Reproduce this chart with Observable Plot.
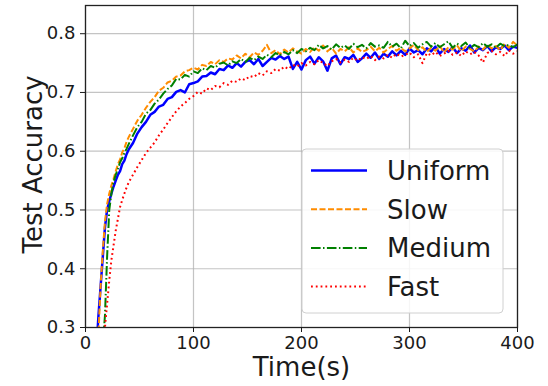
<!DOCTYPE html>
<html><head><meta charset="utf-8">
<script src="https://cdn.jsdelivr.net/npm/d3@7"></script>
<script src="https://cdn.jsdelivr.net/npm/@observablehq/plot@0.6"></script>
<style>body{margin:0;background:#fff} #chart{width:548px;height:386px}</style>
</head><body><div id="chart"></div>
<script>
const times = [10,12,14,16,18,20,22,24,26,28,30,32,34,36,38,40,
  44,48,52,56,60,64,68,72,76,80,
  84,88,92,96,100,104,108,112,116,120,
  124,128,132,136,140,144,148,152,156,160,
  164,168,172,176,180,184,188,192,196,200,
  204,208,212,216,220,224,228,232,236,240,
  244,248,252,256,260,264,268,272,276,280,
  284,288,292,296,300,304,308,312,316,320,
  324,328,332,336,340,344,348,352,356,360,
  364,368,372,376,380,384,388,392,396,400];

const uniform = [0.26,0.32,0.37,0.42,0.47,0.50,0.515,0.528,0.540,0.550,0.560,0.566,0.578,0.584,0.595,0.603,
  0.614,0.630,0.641,0.650,0.662,0.667,0.676,0.679,0.689,0.692,
  0.701,0.704,0.700,0.714,0.716,0.719,0.727,0.728,0.734,0.731,
  0.740,0.738,0.746,0.742,0.750,0.744,0.752,0.755,0.748,0.757,
  0.745,0.752,0.759,0.756,0.762,0.757,0.761,0.740,0.752,0.739,
  0.755,0.761,0.749,0.760,0.753,0.737,0.758,0.763,0.748,0.760,
  0.757,0.764,0.752,0.758,0.766,0.759,0.768,0.757,0.766,0.761,
  0.770,0.763,0.771,0.764,0.775,0.768,0.772,0.765,0.775,0.770,
  0.778,0.766,0.774,0.769,0.777,0.767,0.775,0.771,0.780,0.768,
  0.776,0.772,0.779,0.770,0.777,0.774,0.780,0.772,0.778,0.776];

const slow = [0.25,0.29,0.37,0.43,0.48,0.51,0.528,0.542,0.553,0.566,0.578,0.586,0.598,0.605,0.616,0.624,
  0.638,0.652,0.662,0.674,0.684,0.692,0.703,0.708,0.717,0.720,
  0.727,0.729,0.736,0.738,0.742,0.739,0.747,0.745,0.752,0.748,
  0.755,0.752,0.758,0.756,0.763,0.758,0.766,0.760,0.768,0.764,
  0.771,0.781,0.767,0.772,0.765,0.773,0.768,0.775,0.770,0.766,
  0.774,0.769,0.777,0.771,0.780,0.770,0.776,0.766,0.774,0.770,
  0.777,0.768,0.775,0.769,0.772,0.778,0.770,0.776,0.768,0.774,
  0.779,0.771,0.776,0.770,0.775,0.781,0.772,0.777,0.769,0.776,
  0.771,0.779,0.768,0.777,0.773,0.780,0.770,0.778,0.774,0.770,
  0.778,0.773,0.781,0.775,0.779,0.772,0.783,0.776,0.786,0.780];

const medium = [0.20,0.22,0.25,0.27,0.32,0.42,0.50,0.528,0.548,0.560,0.570,0.581,0.588,0.597,0.604,0.612,
  0.627,0.641,0.650,0.664,0.670,0.681,0.688,0.698,0.706,0.712,
  0.723,0.722,0.730,0.727,0.736,0.733,0.741,0.738,0.745,0.742,
  0.749,0.751,0.746,0.753,0.750,0.757,0.752,0.759,0.755,0.761,
  0.757,0.764,0.760,0.767,0.763,0.769,0.765,0.772,0.767,0.774,
  0.770,0.776,0.772,0.781,0.775,0.779,0.773,0.782,0.776,0.780,
  0.774,0.783,0.777,0.781,0.775,0.784,0.778,0.780,0.776,0.786,
  0.778,0.783,0.775,0.788,0.779,0.784,0.776,0.782,0.786,0.778,
  0.784,0.777,0.782,0.787,0.776,0.783,0.779,0.785,0.775,0.781,
  0.777,0.784,0.778,0.782,0.776,0.783,0.779,0.781,0.777,0.782];

const fast = [0.18,0.21,0.24,0.27,0.30,0.34,0.38,0.415,0.44,0.465,0.485,0.505,0.517,0.528,0.538,0.547,
  0.560,0.573,0.585,0.597,0.606,0.615,0.627,0.637,0.648,0.658,
  0.668,0.676,0.682,0.689,0.694,0.701,0.698,0.707,0.704,0.711,
  0.709,0.716,0.713,0.720,0.718,0.724,0.721,0.728,0.726,0.733,
  0.729,0.736,0.733,0.740,0.737,0.744,0.740,0.747,0.744,0.750,
  0.746,0.752,0.748,0.755,0.750,0.745,0.753,0.757,0.751,0.756,
  0.752,0.759,0.754,0.760,0.757,0.762,0.755,0.761,0.758,0.764,
  0.759,0.766,0.761,0.764,0.768,0.760,0.765,0.750,0.767,0.763,
  0.769,0.762,0.766,0.771,0.764,0.768,0.762,0.770,0.765,0.769,
  0.763,0.751,0.767,0.771,0.765,0.769,0.762,0.772,0.766,0.770];

const seriesNames = ["Uniform", "Slow", "Medium", "Fast"];
const seriesColors = ["#0000ff", "#ff8c00", "#008000", "#ff0000"];
const seriesDash = [null, "6,2.5", "9.6,2.4,1.5,2.4", "1.8,3"];
const seriesWidth = [2.5, 2, 2, 2];
const xTicks = [0, 100, 200, 300, 400];
const yTicks = [0.3, 0.4, 0.5, 0.6, 0.7, 0.8];
const xLabel = "Time(s)";
const yLabel = "Test Accuracy";

const seriesValues = [uniform, slow, medium, fast];
const rows = seriesNames.map((name, i) => times.map((t, j) => ({t, v: seriesValues[i][j], name})));

const lineMarks = rows.map((r, i) => Plot.line(r, {
  x: "t", y: "v", stroke: seriesColors[i], strokeWidth: seriesWidth[i],
  strokeDasharray: seriesDash[i], strokeLinecap: "butt", strokeLinejoin: "round", clip: true
}));

const svg = Plot.plot({
  width: 548, height: 386,
  marginLeft: 85, marginRight: 31, marginTop: 5, marginBottom: 59,
  style: {fontFamily: "DejaVu Sans", fontSize: "18px", color: "#1a1a1a", background: "#fff"},
  x: {domain: [0, 400]},
  y: {domain: [0.3, 0.848]},
  marks: [
    Plot.gridX(xTicks, {stroke: "#b0b0b0", strokeOpacity: 0.75, strokeWidth: 1.2}),
    Plot.gridY(yTicks, {stroke: "#b0b0b0", strokeOpacity: 0.75, strokeWidth: 1.2}),
    ...lineMarks,
    Plot.frame({stroke: "#222", strokeWidth: 1.3}),
    Plot.axisX(xTicks, {tickSize: 5, tickPadding: 4, fontSize: 18, label: null, tickFormat: d => String(d)}),
    Plot.axisY(yTicks, {tickSize: 5, tickPadding: 5, fontSize: 18, label: null, tickFormat: d => d.toFixed(1)}),
    Plot.text([yLabel], {text: d => d, frameAnchor: "left", textAnchor: "middle", lineAnchor: "middle", rotate: -90, dx: -52, dy: -2, fontSize: 26}),
    Plot.text([xLabel], {text: d => d, frameAnchor: "bottom", textAnchor: "middle", lineAnchor: "middle", dy: 40, fontSize: 26})
  ]
});

// Legend (inside plot area, lower right)
const lg = d3.select(svg).append("g").attr("font-family", "DejaVu Sans").attr("text-anchor", "start");
lg.append("rect").attr("x", 302).attr("y", 149).attr("width", 201).attr("height", 164)
  .attr("rx", 4).attr("fill", "#fff").attr("fill-opacity", 0.85).attr("stroke", "#d0d0d0").attr("stroke-width", 1);
seriesNames.forEach((name, i) => {
  const y = 170.5 + i * 38.7;
  lg.append("line").attr("x1", 311).attr("x2", 367).attr("y1", y).attr("y2", y)
    .attr("stroke", seriesColors[i]).attr("stroke-width", seriesWidth[i])
    .attr("stroke-dasharray", seriesDash[i]);
  lg.append("text").attr("x", 387).attr("y", y).attr("dy", "0.36em")
    .attr("text-anchor", "start").attr("font-size", 26).attr("fill", "#1a1a1a").text(name);
});

document.getElementById("chart").appendChild(svg);
</script>
</body></html>
